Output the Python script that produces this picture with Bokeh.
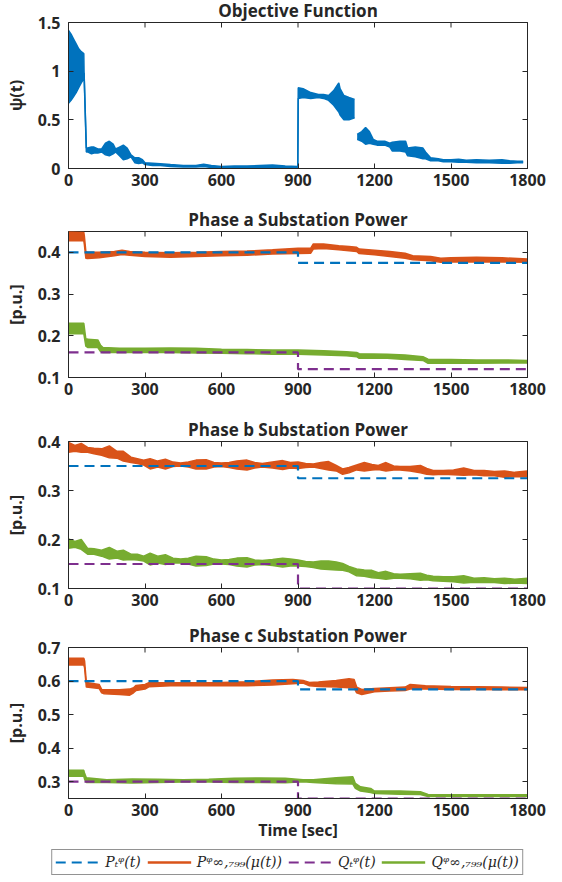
import math
from bokeh.plotting import figure
from bokeh.layouts import column
from bokeh.models import (Range1d, FixedTicker, CustomJSTickFormatter, LinearAxis,
                          Legend, LegendItem)
from bokeh.embed import file_html
from bokeh.resources import INLINE

NaN = float("nan")

# ---------------- data ----------------
x_ticks = [0, 300, 600, 900, 1200, 1500, 1800]

# Objective function psi(t): envelope (low / high) of the oscillating trace
obj_t = [0, 10, 20, 30, 40, 50, 60, 61, 70, 75, 90, 100, 115, 130, 145, 160, 175, 185,
         200, 215, 230, 245, 260, 275, 290, 300, 330, 360, 400, 450, 500, 530, 560, 600,
         650, 700, 750, 800, 850, 899, 901, 920, 950, 980, 1000, 1020, 1040, 1060, 1065,
         1080, 1100, 1122, NaN, 1132, 1150, 1165, 1180, 1195, 1210, 1240, 1260, 1270,
         1300, 1322, 1330, 1360, 1390, 1400, 1420, 1450, 1470, 1500, 1530, 1560, 1600,
         1650, 1700, 1730, 1760, 1783]
obj_lo = [0.67, 0.70, 0.74, 0.78, 0.83, 0.88, 0.92, 0.98, 0.17, 0.17, 0.15, 0.16, 0.16,
          0.17, 0.14, 0.13, 0.15, 0.17, 0.13, 0.09, 0.10, 0.12, 0.06, 0.05, 0.06, 0.04,
          0.03, 0.03, 0.02, 0.015, 0.015, 0.02, 0.01, 0.005, 0.008, 0.008, 0.01, 0.012,
          0.01, 0.005, 0.72, 0.73, 0.72, 0.73, 0.72, 0.70, 0.65, 0.58, 0.55, 0.50, 0.50,
          0.52, NaN, 0.30, 0.28, 0.25, 0.26, 0.25, 0.24, 0.24, 0.22, 0.18, 0.18, 0.17,
          0.13, 0.12, 0.10, 0.10, 0.08, 0.08, 0.07, 0.07, 0.065, 0.065, 0.06, 0.06,
          0.055, 0.055, 0.06, 0.06]
obj_hi = [1.42, 1.38, 1.33, 1.28, 1.23, 1.20, 1.18, 1.00, 0.21, 0.21, 0.22, 0.22, 0.20,
          0.20, 0.26, 0.28, 0.25, 0.20, 0.22, 0.24, 0.21, 0.14, 0.11, 0.11, 0.09, 0.06,
          0.055, 0.05, 0.04, 0.03, 0.03, 0.045, 0.03, 0.02, 0.025, 0.025, 0.03, 0.035,
          0.025, 0.02, 0.83, 0.82, 0.78, 0.76, 0.76, 0.75, 0.80, 0.88, 0.82, 0.75, 0.73,
          0.71, NaN, 0.35, 0.38, 0.42, 0.38, 0.30, 0.28, 0.28, 0.26, 0.27, 0.28, 0.28,
          0.21, 0.22, 0.21, 0.17, 0.11, 0.10, 0.09, 0.09, 0.095, 0.085, 0.09, 0.085,
          0.09, 0.08, 0.075, 0.075]

# Reference set-points (step at 900 s)
ref_t = [0, 900, 900, 1800]
pa_ref = [0.40, 0.40, 0.375, 0.375]
qa_ref = [0.16, 0.16, 0.12, 0.12]
pb_ref = [0.35, 0.35, 0.325, 0.325]
qb_ref = [0.15, 0.15, 0.10, 0.10]
pc_ref = [0.60, 0.60, 0.575, 0.575]
qc_ref = [0.30, 0.30, 0.25, 0.25]

# Phase a
pa_t = [0, 60, 62, 68, 75, 120, 180, 210, 240, 300, 400, 500, 600, 700, 800, 900, 950,
        960, 1000, 1060, 1100, 1130, 1140, 1200, 1260, 1320, 1350, 1420, 1460, 1500,
        1600, 1700, 1800]
pa_lo = [0.428, 0.428, 0.420, 0.386, 0.385, 0.387, 0.392, 0.395, 0.393, 0.390, 0.388,
         0.390, 0.392, 0.393, 0.396, 0.397, 0.398, 0.408, 0.409, 0.406, 0.404, 0.402,
         0.397, 0.394, 0.390, 0.386, 0.382, 0.380, 0.376, 0.377, 0.377, 0.377, 0.376]
pa_hi = [0.450, 0.448, 0.440, 0.402, 0.400, 0.400, 0.402, 0.405, 0.402, 0.400, 0.399,
         0.400, 0.402, 0.403, 0.406, 0.410, 0.410, 0.420, 0.420, 0.416, 0.414, 0.412,
         0.408, 0.405, 0.402, 0.398, 0.392, 0.390, 0.386, 0.387, 0.388, 0.387, 0.384]
qa_t = [0, 60, 68, 75, 115, 125, 135, 200, 300, 400, 500, 600, 700, 800, 900, 1000,
        1090, 1130, 1140, 1250, 1320, 1390, 1410, 1500, 1600, 1700, 1800]
qa_lo = [0.205, 0.205, 0.175, 0.172, 0.172, 0.163, 0.160, 0.160, 0.160, 0.160, 0.159,
         0.158, 0.157, 0.156, 0.156, 0.154, 0.152, 0.150, 0.146, 0.146, 0.143, 0.141,
         0.134, 0.134, 0.134, 0.135, 0.135]
qa_hi = [0.230, 0.230, 0.192, 0.192, 0.190, 0.178, 0.172, 0.170, 0.170, 0.171, 0.170,
         0.168, 0.167, 0.166, 0.166, 0.164, 0.162, 0.160, 0.157, 0.156, 0.154, 0.150,
         0.144, 0.143, 0.142, 0.142, 0.141]

# Phase b (same time grid for P and Q)
pb_t = [0, 25, 50, 75, 100, 130, 160, 190, 215, 245, 270, 295, 320, 350, 380, 410, 440,
        470, 500, 540, 570, 600, 630, 660, 700, 730, 760, 800, 840, 870, 900, 930, 960,
        990, 1020, 1050, 1075, 1100, 1130, 1160, 1190, 1215, 1245, 1275, 1300, 1340,
        1380, 1405, 1430, 1470, 1510, 1550, 1590, 1630, 1670, 1710, 1750, 1800]
pb_lo = [0.378, 0.380, 0.378, 0.378, 0.375, 0.372, 0.367, 0.366, 0.360, 0.357, 0.355,
         0.352, 0.344, 0.348, 0.344, 0.349, 0.350, 0.348, 0.344, 0.344, 0.348, 0.349,
         0.347, 0.344, 0.342, 0.346, 0.348, 0.346, 0.343, 0.346, 0.345, 0.347, 0.348,
         0.345, 0.342, 0.340, 0.333, 0.336, 0.342, 0.340, 0.342, 0.343, 0.340, 0.342,
         0.342, 0.340, 0.336, 0.333, 0.332, 0.333, 0.332, 0.331, 0.332, 0.330, 0.330,
         0.327, 0.328, 0.328]
pb_hi = [0.398, 0.392, 0.396, 0.388, 0.386, 0.385, 0.391, 0.380, 0.380, 0.368, 0.365,
         0.362, 0.365, 0.360, 0.364, 0.358, 0.356, 0.358, 0.362, 0.363, 0.357, 0.356,
         0.357, 0.360, 0.362, 0.357, 0.355, 0.358, 0.361, 0.357, 0.358, 0.355, 0.354,
         0.357, 0.359, 0.351, 0.344, 0.347, 0.352, 0.357, 0.353, 0.351, 0.357, 0.350,
         0.349, 0.349, 0.351, 0.345, 0.341, 0.341, 0.342, 0.346, 0.341, 0.341, 0.339,
         0.340, 0.337, 0.340]
qb_lo = [0.182, 0.184, 0.180, 0.170, 0.170, 0.166, 0.160, 0.162, 0.158, 0.159, 0.158,
         0.156, 0.148, 0.152, 0.149, 0.152, 0.152, 0.150, 0.146, 0.147, 0.150, 0.150,
         0.149, 0.146, 0.144, 0.148, 0.149, 0.147, 0.144, 0.146, 0.146, 0.145, 0.143,
         0.140, 0.139, 0.138, 0.137, 0.134, 0.126, 0.125, 0.122, 0.121, 0.119, 0.121,
         0.121, 0.120, 0.117, 0.118, 0.116, 0.115, 0.114, 0.111, 0.113, 0.112, 0.112,
         0.110, 0.111, 0.110]
qb_hi = [0.201, 0.196, 0.200, 0.182, 0.181, 0.178, 0.184, 0.176, 0.178, 0.170, 0.170,
         0.166, 0.172, 0.166, 0.169, 0.162, 0.160, 0.162, 0.166, 0.165, 0.160, 0.158,
         0.159, 0.162, 0.163, 0.158, 0.157, 0.159, 0.162, 0.160, 0.158, 0.155, 0.154,
         0.156, 0.156, 0.154, 0.151, 0.145, 0.140, 0.138, 0.137, 0.132, 0.135, 0.130,
         0.129, 0.130, 0.131, 0.127, 0.125, 0.124, 0.124, 0.126, 0.121, 0.122, 0.120,
         0.121, 0.119, 0.121]

# Phase c
pc_t = [0, 60, 63, 70, 120, 130, 140, 200, 240, 255, 265, 300, 315, 400, 500, 600, 700,
        800, 880, 920, 945, 980, 1050, 1100, 1120, 1130, 1150, 1200, 1260, 1320, 1340,
        1400, 1500, 1600, 1700, 1800]
pc_lo = [0.648, 0.648, 0.640, 0.582, 0.578, 0.565, 0.562, 0.560, 0.558, 0.565, 0.572,
         0.576, 0.583, 0.586, 0.586, 0.586, 0.586, 0.588, 0.592, 0.594, 0.586, 0.584,
         0.582, 0.580, 0.580, 0.565, 0.560, 0.568, 0.570, 0.572, 0.576, 0.576, 0.575,
         0.575, 0.574, 0.574]
pc_hi = [0.668, 0.668, 0.660, 0.596, 0.590, 0.575, 0.574, 0.574, 0.576, 0.580, 0.587,
         0.590, 0.595, 0.595, 0.595, 0.596, 0.598, 0.603, 0.605, 0.602, 0.596, 0.597,
         0.602, 0.607, 0.605, 0.582, 0.575, 0.578, 0.580, 0.582, 0.590, 0.586, 0.584,
         0.583, 0.582, 0.581]
qc_t = [0, 60, 63, 70, 150, 250, 350, 450, 550, 650, 750, 850, 920, 960, 1050, 1115,
        1125, 1145, 1185, 1200, 1300, 1380, 1410, 1500, 1600, 1700, 1800]
qc_lo = [0.316, 0.316, 0.308, 0.298, 0.298, 0.296, 0.298, 0.299, 0.299, 0.298, 0.298,
         0.297, 0.300, 0.298, 0.294, 0.293, 0.280, 0.272, 0.268, 0.265, 0.263, 0.262,
         0.256, 0.256, 0.256, 0.256, 0.256]
qc_hi = [0.334, 0.334, 0.325, 0.312, 0.306, 0.308, 0.307, 0.306, 0.307, 0.310, 0.311,
         0.310, 0.306, 0.306, 0.312, 0.315, 0.295, 0.285, 0.280, 0.272, 0.272, 0.270,
         0.262, 0.261, 0.261, 0.261, 0.261]

legend_labels = ["Pₜᵠ(t)", "Pᵠ∞,₇₉₉(μ(t))", "Qₜᵠ(t)", "Qᵠ∞,₇₉₉(μ(t))"]

# ---------------- style ----------------
BLUE, ORANGE, PURPLE, GREEN = "#0072BD", "#D95319", "#7E2F8E", "#77AC30"
INK = "#262626"
FONT = "Open Sans"
FW, LEFT, RIGHT, TOP = 459, 68, 19, 19
TICK = 5
DASH = "10 6"

num_fmt = CustomJSTickFormatter(code="return String(Math.round(tick*100)/100);")


def style(ax, labels=True):
    ax.axis_line_color = INK
    ax.major_tick_line_color = INK
    ax.major_tick_in = TICK
    ax.major_tick_out = 0
    ax.minor_tick_line_color = None
    ax.major_label_text_font = FONT
    ax.major_label_text_font_style = "bold"
    ax.major_label_text_font_size = "16px" if labels else "0px"
    ax.major_label_text_color = INK
    ax.axis_label_text_font = FONT
    ax.axis_label_text_font_style = "bold"
    ax.axis_label_text_font_size = "16px"
    ax.axis_label_text_color = INK


def panel(title, y0, y1, yticks, ylabel, frame_h, bottom, xlabel=None):
    p = figure(frame_width=FW, frame_height=frame_h,
               x_range=Range1d(0, 1800), y_range=Range1d(y0, y1),
               output_backend="svg", toolbar_location=None,
               x_axis_type=None, y_axis_type=None,
               min_border_left=LEFT, min_border_right=RIGHT,
               min_border_top=TOP, min_border_bottom=bottom)
    p.outline_line_color = INK
    p.outline_line_width = 1
    p.title.text = title
    p.title.align = "center"
    p.title.text_font = FONT
    p.title.text_font_style = "bold"
    p.title.text_font_size = "17px"
    p.title.text_color = INK
    p.title.standoff = 2

    xb = LinearAxis(ticker=FixedTicker(ticks=x_ticks))
    style(xb)
    xb.major_label_standoff = 5
    if xlabel:
        xb.axis_label = xlabel
        xb.axis_label_standoff = 0
    p.add_layout(xb, "below")

    yl = LinearAxis(ticker=FixedTicker(ticks=yticks), formatter=num_fmt,
                    axis_label=ylabel)
    style(yl)
    yl.major_label_standoff = 8
    yl.axis_label_standoff = 8
    p.add_layout(yl, "left")

    yr = LinearAxis(ticker=FixedTicker(ticks=yticks),
                    formatter=CustomJSTickFormatter(code="return '';"))
    style(yr, labels=False)
    yr.major_label_standoff = 0
    p.add_layout(yr, "right")

    # inward tick marks along the top edge of the box
    dy = (y1 - y0) / frame_h * TICK
    p.segment(x0=x_ticks, y0=[y1] * len(x_ticks), x1=x_ticks,
              y1=[y1 - dy] * len(x_ticks), line_color=INK, line_width=1)
    return p


def band(p, t, lo, hi, color):
    segs, cur = [], ([], [], [])
    for a, b, c in zip(t, lo, hi):
        if a != a:
            segs.append(cur)
            cur = ([], [], [])
            continue
        cur[0].append(a); cur[1].append(b); cur[2].append(c)
    segs.append(cur)
    for ts, ls, hs in segs:
        p.varea(x=ts, y1=ls, y2=hs, fill_color=color)
        p.line(ts, ls, line_color=color, line_width=1.5)
        p.line(ts, hs, line_color=color, line_width=1.5)


def ref(p, vals, color):
    return p.line(ref_t, vals, line_color=color, line_width=2.2, line_dash=DASH)


# Objective
p1 = panel("Objective Function", 0, 1.5, [0, 0.5, 1, 1.5], "ψ(t)", 146, 36)
band(p1, obj_t, obj_lo, obj_hi, BLUE)
p1.margin = (-5, 0, 0, 0)

p2 = panel("Phase a Substation Power", 0.1, 0.45, [0.1, 0.2, 0.3, 0.4], "[p.u.]", 146, 37)
band(p2, pa_t, pa_lo, pa_hi, ORANGE)
band(p2, qa_t, qa_lo, qa_hi, GREEN)
ref(p2, pa_ref, BLUE)
ref(p2, qa_ref, PURPLE)

p3 = panel("Phase b Substation Power", 0.1, 0.4, [0.1, 0.2, 0.3, 0.4], "[p.u.]", 147, 32)
band(p3, pb_t, pb_lo, pb_hi, ORANGE)
band(p3, pb_t, qb_lo, qb_hi, GREEN)
ref(p3, pb_ref, BLUE)
ref(p3, qb_ref, PURPLE)

p4 = panel("Phase c Substation Power", 0.25, 0.7, [0.3, 0.4, 0.5, 0.6, 0.7], "[p.u.]", 151, 48,
           xlabel="Time [sec]")
band(p4, pc_t, pc_lo, pc_hi, ORANGE)
band(p4, qc_t, qc_lo, qc_hi, GREEN)
ref(p4, pc_ref, BLUE)
ref(p4, qc_ref, PURPLE)

# Legend strip, a separate root (legend samples: renderers holding one empty point)
pl = figure(frame_width=530, frame_height=28, x_range=Range1d(0, 1), y_range=Range1d(0, 1),
            output_backend="svg", toolbar_location=None,
            x_axis_type=None, y_axis_type=None,
            min_border=0, min_border_left=22, min_border_right=0,
            min_border_top=0, min_border_bottom=0)
pl.outline_line_color = None
pl.background_fill_alpha = 0
pl.border_fill_alpha = 0
pl.margin = (2, 0, 0, 0)
r1 = pl.line([NaN], [NaN], line_color=BLUE, line_width=2.2, line_dash=DASH)
r2 = pl.line([NaN], [NaN], line_color=ORANGE, line_width=2.5)
r3 = pl.line([NaN], [NaN], line_color=PURPLE, line_width=2.2, line_dash=DASH)
r4 = pl.line([NaN], [NaN], line_color=GREEN, line_width=2.5)
leg = Legend(items=[LegendItem(label=lab, renderers=[r]) for lab, r in
                    zip(legend_labels, [r1, r2, r3, r4])],
             orientation="horizontal", location="center",
             label_text_font="DejaVu Serif", label_text_font_style="italic",
             label_text_font_size="14px", label_text_color=INK,
             glyph_width=44, glyph_height=18, label_standoff=6, spacing=6,
             padding=3, margin=0, label_height=18,
             border_line_color=INK, border_line_width=1,
             background_fill_color="white", background_fill_alpha=1)
pl.add_layout(leg)

layout = column(p1, p2, p3, p4, spacing=0)
open("out.html", "w").write(file_html([layout, pl], INLINE))
